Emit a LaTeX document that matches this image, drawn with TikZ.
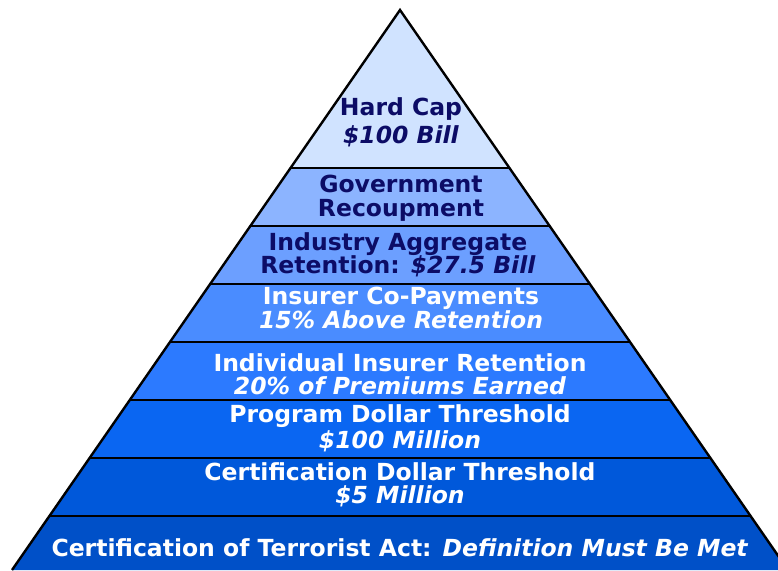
\documentclass[tikz,border=0pt]{standalone}
\usepackage{fontspec}
\setmainfont{DejaVu Sans}
\usepackage{xcolor}
\usepackage{tikz}
\usetikzlibrary{positioning}

\definecolor{capblue}{HTML}{D0E3FF}
\definecolor{recoupblue}{HTML}{8CB4FF}
\definecolor{aggblue}{HTML}{6C9FFF}
\definecolor{copayblue}{HTML}{4A8CFF}
\definecolor{retblue}{HTML}{2C7AFF}
\definecolor{progblue}{HTML}{0A66F2}
\definecolor{certblue}{HTML}{0058DA}
\definecolor{actblue}{HTML}{0050C8}
\definecolor{navytext}{HTML}{0C0C66}

\begin{document}
\begin{tikzpicture}[
x=1pt,y=-1pt,
lbl/.style={
align=center,inner sep=0pt,
font=\bfseries\fontsize{23.5}{23.5}\selectfont
},
dark/.style={lbl,text=navytext},
light/.style={lbl,text=white},
divider/.style={line width=2.8pt},
outline/.style={line width=2.4pt,line join=miter}
]
\useasboundingbox (0,0) rectangle (778,570);

\coordinate (apex) at (400,10);
\coordinate (baseL) at (12,570);
\coordinate (baseR) at (788,570);

% bands, cut to the triangle
\begin{scope}
\clip (apex) -- (baseR) -- (baseL) -- cycle;
\fill[capblue] (0,0) rectangle (778,168);
\fill[recoupblue] (0,168) rectangle (778,226);
\fill[aggblue] (0,226) rectangle (778,284);
\fill[copayblue] (0,284) rectangle (778,342);
\fill[retblue] (0,342) rectangle (778,400);
\fill[progblue] (0,400) rectangle (778,458);
\fill[certblue] (0,458) rectangle (778,516);
\fill[actblue] (0,516) rectangle (778,575);
\draw[divider] (0,168) -- (778,168);
\draw[divider] (0,226) -- (778,226);
\draw[divider] (0,284) -- (778,284);
\draw[divider] (0,342) -- (778,342);
\draw[divider] (0,400) -- (778,400);
\draw[divider] (0,458) -- (778,458);
\draw[divider] (0,516) -- (778,516);
\end{scope}
\draw[outline] (baseL) -- (apex) -- (baseR);

\node[dark,font=\bfseries\fontsize{23.5}{28}\selectfont] (hardcap) at (401,122) {Hard Cap\\\textit{\$100 Bill}};
\node[dark,font=\bfseries\fontsize{23.5}{24}\selectfont] (recoup) at (401,198) {Government\\Recoupment};
\node[dark] (aggregate) at (398,255) {Industry Aggregate\\Retention: \textit{\$27.5 Bill}};
\node[light,font=\bfseries\fontsize{23.5}{22.5}\selectfont] (copay) at (401,308) {Insurer Co-Payments\\\textit{15\% Above Retention}};
\node[light] (retention) at (400,374) {Individual Insurer Retention\\\textit{20\% of Premiums Earned}};
\node[light,font=\bfseries\fontsize{23.5}{26}\selectfont] (program) at (400,428) {Program Dollar Threshold\\\textit{\$100 Million}};
\node[light,font=\bfseries\fontsize{23.5}{22.5}\selectfont] (certdollar) at (400,485) {Certification Dollar Threshold\\\textit{\$5 Million}};
\node[light] (certact) at (400,548) {Certification of Terrorist Act: \textit{Definition Must Be Met}};

\end{tikzpicture}
\end{document}
